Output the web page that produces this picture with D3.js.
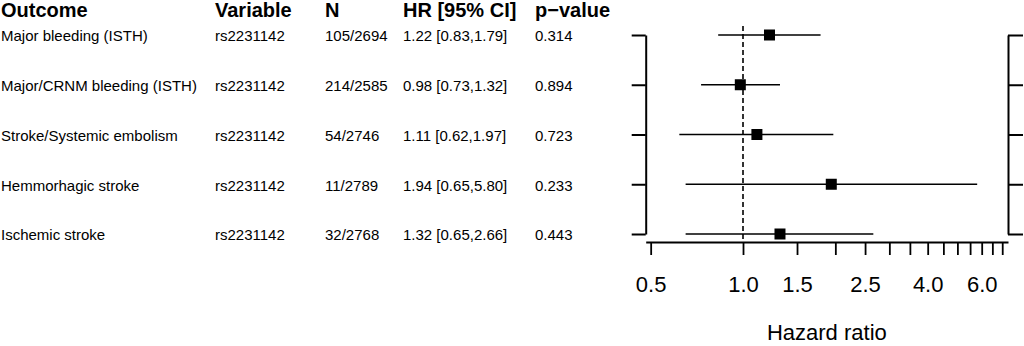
<!DOCTYPE html>
<html>
<head>
<meta charset="utf-8">
<script src="https://cdn.jsdelivr.net/npm/d3@7"></script>
<style>
  body { margin: 0; background: #fff; }
  svg { display: block; font-family: "Liberation Sans", Arial, sans-serif; }
</style>
</head>
<body>
<div id="chart"></div>
<script>
// forest plot data
const outcomes = ["Major bleeding (ISTH)", "Major/CRNM bleeding (ISTH)", "Stroke/Systemic embolism", "Hemmorhagic stroke", "Ischemic stroke"];
const variables = ["rs2231142", "rs2231142", "rs2231142", "rs2231142", "rs2231142"];
const nCounts = ["105/2694", "214/2585", "54/2746", "11/2789", "32/2768"];
const hr = [1.22, 0.98, 1.11, 1.94, 1.32];
const lower = [0.83, 0.73, 0.62, 0.65, 0.65];
const upper = [1.79, 1.32, 1.97, 5.80, 2.66];
const pValues = ["0.314", "0.894", "0.723", "0.233", "0.443"];

const headers = ["Outcome", "Variable", "N", "HR [95% CI]", "p\u2212value"];
const tickValues = [0.5, 1.0, 1.5, 2.0, 2.5, 3.0, 3.5, 4.0, 4.5, 5.0, 5.5, 6.0, 6.5, 7.0];
const tickLabels = [0.5, 1.0, 1.5, 2.5, 4.0, 6.0];

const width = 1024, height = 346;

const svg = d3.select("#chart").append("svg")
  .attr("width", width).attr("height", height);

const x = d3.scaleLog().domain([0.4817, 7.31]).range([645.7, 1008]);
const y = d3.scalePoint().domain(outcomes).range([35, 234]);

// table columns
const colX = [1, 215, 325, 403, 535];
const rowsText = outcomes.map((o, i) => [
  o, variables[i], nCounts[i],
  `${hr[i].toFixed(2)} [${lower[i].toFixed(2)},${upper[i].toFixed(2)}]`,
  pValues[i]
]);

svg.append("g").selectAll("text")
  .data(headers).enter().append("text")
  .attr("x", (d, i) => colX[i]).attr("y", 17)
  .attr("font-size", 20).attr("font-weight", "bold")
  .text(d => d);

const rows = svg.append("g").selectAll("g")
  .data(rowsText).enter().append("g")
  .attr("transform", (d, i) => `translate(0,${y(outcomes[i])})`);
rows.selectAll("text")
  .data(d => d).enter().append("text")
  .attr("x", (d, i) => colX[i]).attr("dy", "0.43em")
  .attr("font-size", 15)
  .text(d => d);

// brackets either side (unlabelled y axes)
svg.append("g")
  .attr("transform", `translate(${x.range()[0]},0)`)
  .call(d3.axisLeft(y).tickSize(14).tickSizeOuter(0).tickFormat(""))
  .call(g => g.selectAll("path,line").attr("stroke", "#000").attr("stroke-width", 2));
svg.append("g")
  .attr("transform", `translate(${x.range()[1]},0)`)
  .call(d3.axisRight(y).tickSize(15).tickSizeOuter(0).tickFormat(""))
  .call(g => g.selectAll("path,line").attr("stroke", "#000").attr("stroke-width", 2));

// reference line at HR = 1
svg.append("line")
  .attr("x1", x(1)).attr("x2", x(1))
  .attr("y1", 26).attr("y2", 242)
  .attr("stroke", "#000").attr("stroke-width", 1.6)
  .attr("stroke-dasharray", "5,3");

// confidence intervals
svg.append("g").selectAll("line")
  .data(outcomes).enter().append("line")
  .attr("x1", (d, i) => x(lower[i])).attr("x2", (d, i) => x(upper[i]))
  .attr("y1", d => y(d)).attr("y2", d => y(d))
  .attr("stroke", "#000").attr("stroke-width", 1.6);

// point estimates
const sq = 11;
svg.append("g").selectAll("rect")
  .data(outcomes).enter().append("rect")
  .attr("x", (d, i) => x(hr[i]) - sq / 2)
  .attr("y", d => y(d) - sq / 2)
  .attr("width", sq).attr("height", sq)
  .attr("fill", "#000");

// x axis
svg.append("g")
  .attr("transform", "translate(0,242)")
  .call(d3.axisBottom(x).tickValues(tickValues).tickSize(13).tickSizeOuter(0).tickPadding(21)
    .tickFormat(d => tickLabels.includes(d) ? d.toFixed(1) : ""))
  .call(g => g.selectAll("path,line").attr("stroke", "#000").attr("stroke-width", 1.8))
  .call(g => g.selectAll("text").attr("fill", "#000")
    .attr("font-size", 22).attr("font-family", "Liberation Sans, Arial, sans-serif"));

svg.append("text")
  .attr("x", (x.range()[0] + x.range()[1]) / 2).attr("y", 340)
  .attr("text-anchor", "middle").attr("font-size", 22)
  .text("Hazard ratio");
</script>
</body>
</html>
